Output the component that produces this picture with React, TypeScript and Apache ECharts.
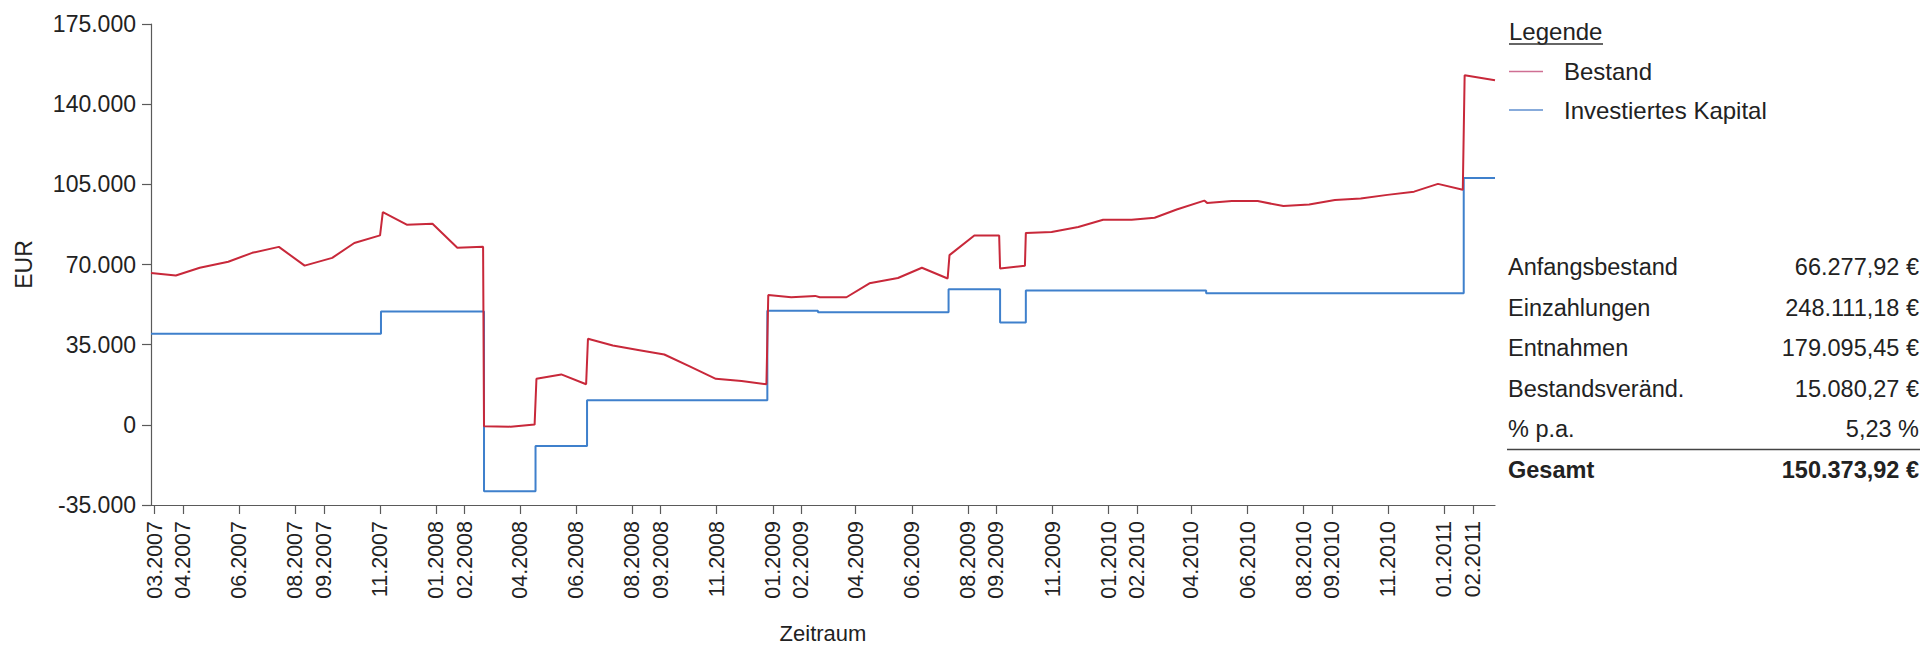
import React, { useEffect, useRef } from "react";
import * as echarts from "echarts";

// ---- data ----
const bestandDates = [
  "2007-02-25", "2007-03-24", "2007-04-19", "2007-05-20", "2007-06-15", "2007-07-14",
  "2007-08-11", "2007-09-10", "2007-10-04", "2007-11-01", "2007-11-04", "2007-11-30",
  "2007-12-28", "2008-01-24", "2008-02-21", "2008-02-22", "2008-03-22", "2008-04-17",
  "2008-04-19", "2008-05-16", "2008-06-12", "2008-06-14", "2008-07-11", "2008-08-09",
  "2008-09-05", "2008-10-02", "2008-10-31", "2008-11-28", "2008-12-25", "2008-12-27",
  "2009-01-21", "2009-02-16", "2009-02-21", "2009-03-22", "2009-04-16", "2009-05-17",
  "2009-06-12", "2009-07-10", "2009-07-12", "2009-08-08", "2009-09-04", "2009-09-05",
  "2009-10-02", "2009-10-03", "2009-10-31", "2009-11-29", "2009-12-26", "2010-01-26",
  "2010-02-20", "2010-03-16", "2010-04-15", "2010-04-18", "2010-05-15", "2010-06-12",
  "2010-07-10", "2010-08-07", "2010-09-04", "2010-10-02", "2010-10-31", "2010-11-29",
  "2010-12-25", "2011-01-21", "2011-01-23", "2011-02-25",
];
const bestandValues = [
  66278, 65200, 68600, 71200, 75100, 77700,
  69500, 72900, 79400, 82700, 92900, 87400,
  87800, 77300, 77700, -600, -800, 100,
  20100, 22000, 17700, 37600, 34600, 32600,
  30700, 25600, 20100, 19100, 17700, 56700,
  55700, 56300, 55700, 55700, 61800, 64100,
  68600, 63900, 74100, 82700, 82700, 68300,
  69500, 83800, 84200, 86400, 89500, 89500,
  90400, 94000, 97900, 96900, 97700, 97700,
  95500, 96200, 98200, 98800, 100400, 101800,
  105200, 102600, 152600, 150400,
];

const kapitalDates = [
  "2007-02-25", "2007-11-02", "2008-02-22", "2008-04-18", "2008-06-13", "2008-12-26",
  "2009-02-19", "2009-07-11", "2009-09-05", "2009-10-03", "2010-04-17", "2011-01-22",
  "2011-02-25",
];
const kapitalValues = [
  39800, 49500, -29000, -9200, 10700, 49800,
  49200, 59200, 44700, 58600, 57400, 107800,
  107800,
];

const xTickLabels = [
  "03.2007", "04.2007", "06.2007", "08.2007", "09.2007", "11.2007",
  "01.2008", "02.2008", "04.2008", "06.2008", "08.2008", "09.2008", "11.2008",
  "01.2009", "02.2009", "04.2009", "06.2009", "08.2009", "09.2009", "11.2009",
  "01.2010", "02.2010", "04.2010", "06.2010", "08.2010", "09.2010", "11.2010",
  "01.2011", "02.2011",
];

const xStart = "2007-02-25";
const xEnd = "2011-02-25";
const yMin = -35000;
const yMax = 175000;
const yStep = 35000;

const legendTitle = "Legende";
const seriesNames = ["Bestand", "Investiertes Kapital"];

const statLabels = ["Anfangsbestand", "Einzahlungen", "Entnahmen", "Bestandsveränd.", "% p.a."];
const statValues = ["66.277,92 €", "248.111,18 €", "179.095,45 €", "15.080,27 €", "5,23 %"];
const totalLabel = "Gesamt";
const totalValue = "150.373,92 €";

// ---- helpers ----
const ts = (s: string) => {
  const [y, m, d] = s.split("-").map(Number);
  return new Date(y, m - 1, d).getTime();
};
const tickTs = (s: string) => {
  const [m, y] = s.split(".").map(Number);
  return new Date(y, m - 1, 1).getTime();
};
const pad = (n: number) => (n < 10 ? "0" + n : "" + n);
const fmtMonth = (v: number) => {
  const d = new Date(v);
  return pad(d.getMonth() + 1) + "." + d.getFullYear();
};
const fmtThousands = (v: number) => {
  const neg = v < 0;
  const s = Math.abs(Math.round(v)).toString().replace(/\B(?=(\d{3})+(?!\d))/g, ".");
  return (neg ? "-" : "") + s;
};

const FONT = "'Liberation Sans', Arial, Helvetica, sans-serif";
const RED = "#c8283a";
const BLUE = "#3f80cc";
const TXT = "#222222";
const AXIS = "#5a5a5a";

export default function App() {
  const ref = useRef<HTMLDivElement>(null);

  useEffect(() => {
    document.body.style.margin = "0";
    document.body.style.overflow = "hidden";
    if (!ref.current) return;
    const chart = echarts.init(ref.current, null, { renderer: "svg", width: 1925, height: 649 });

    const bestandData = bestandDates.map((d, i) => [ts(d), bestandValues[i]]);
    const kapitalData = kapitalDates.map((d, i) => [ts(d), kapitalValues[i]]);
    const ticks = xTickLabels.map(tickTs);

    const legX = 1509;
    const statTop = 267;
    const statGap = 40.6;
    const g: any[] = [];
    g.push({
      type: "text",
      x: legX,
      y: 31.5,
      style: { text: legendTitle, font: `24px ${FONT}`, fill: TXT, verticalAlign: "middle", align: "left" },
    });
    g.push({
      type: "line",
      shape: { x1: legX, y1: 44, x2: legX + 94, y2: 44 },
      style: { stroke: "#333", lineWidth: 1.5 },
    });
    const legColors = ["#cf6f93", "#5f8fcf"];
    seriesNames.forEach((n, i) => {
      const y = 71.5 + i * 38.5;
      g.push({
        type: "line",
        shape: { x1: legX, y1: y, x2: legX + 34, y2: y },
        style: { stroke: legColors[i], lineWidth: 1.5 },
      });
      g.push({
        type: "text",
        x: 1564,
        y,
        style: { text: n, font: `24px ${FONT}`, fill: TXT, verticalAlign: "middle", align: "left" },
      });
    });
    statLabels.forEach((l, i) => {
      const y = statTop + i * statGap;
      g.push({
        type: "text",
        x: 1508,
        y,
        style: { text: l, font: `23.5px ${FONT}`, fill: TXT, verticalAlign: "middle", align: "left" },
      });
      g.push({
        type: "text",
        x: 1919,
        y,
        style: { text: statValues[i], font: `23.5px ${FONT}`, fill: TXT, verticalAlign: "middle", align: "right" },
      });
    });
    g.push({
      type: "line",
      shape: { x1: 1507, y1: 449.5, x2: 1920, y2: 449.5 },
      style: { stroke: "#444", lineWidth: 1.5 },
    });
    g.push({
      type: "text",
      x: 1508,
      y: 470,
      style: { text: totalLabel, font: `bold 23.5px ${FONT}`, fill: TXT, verticalAlign: "middle", align: "left" },
    });
    g.push({
      type: "text",
      x: 1919,
      y: 470,
      style: { text: totalValue, font: `bold 23.5px ${FONT}`, fill: TXT, verticalAlign: "middle", align: "right" },
    });

    chart.setOption({
      animation: false,
      backgroundColor: "#ffffff",
      textStyle: { fontFamily: FONT },
      grid: { left: 151, right: 430, top: 24, bottom: 139.5, containLabel: false },
      xAxis: {
        type: "value",
        min: ts(xStart),
        max: ts(xEnd),
        name: "Zeitraum",
        nameLocation: "middle",
        nameGap: 117,
        nameTextStyle: { fontSize: 22, color: TXT, fontFamily: FONT },
        axisLine: { show: true, onZero: false, lineStyle: { color: AXIS, width: 1.2 } },
        axisTick: { show: true, length: 9, customValues: ticks, lineStyle: { color: AXIS, width: 1.2 } },
        axisLabel: {
          customValues: ticks,
          rotate: 90,
          margin: 16,
          fontSize: 21.5,
          color: TXT,
          fontFamily: FONT,
          formatter: (v: number) => fmtMonth(v),
        },
        splitLine: { show: false },
      },
      yAxis: {
        type: "value",
        min: yMin,
        max: yMax,
        interval: yStep,
        name: "EUR",
        nameLocation: "middle",
        nameGap: 116,
        nameTextStyle: { fontSize: 23, color: TXT, fontFamily: FONT },
        axisLine: { show: true, lineStyle: { color: AXIS, width: 1.2 } },
        axisTick: { show: true, length: 9, lineStyle: { color: AXIS, width: 1.2 } },
        axisLabel: { margin: 15, fontSize: 23, color: TXT, fontFamily: FONT, formatter: (v: number) => fmtThousands(v) },
        splitLine: { show: false },
      },
      series: [
        {
          type: "line",
          name: seriesNames[1],
          step: "end",
          data: kapitalData,
          showSymbol: false,
          symbol: "none",
          lineStyle: { color: BLUE, width: 2 },
          itemStyle: { color: BLUE },
          z: 2,
        },
        {
          type: "line",
          name: seriesNames[0],
          data: bestandData,
          showSymbol: false,
          symbol: "none",
          lineStyle: { color: RED, width: 2 },
          itemStyle: { color: RED },
          z: 3,
        },
      ],
      graphic: g,
    });

    return () => chart.dispose();
  }, []);

  return <div ref={ref} style={{ position: "absolute", left: 0, top: 0, width: 1925, height: 649 }} />;
}
